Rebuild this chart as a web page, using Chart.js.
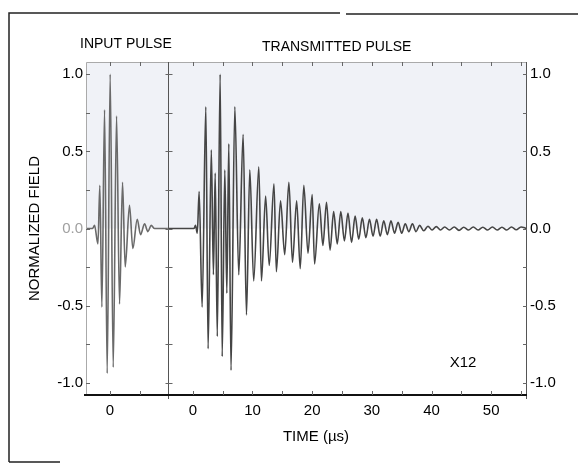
<!DOCTYPE html>
<html>
<head>
<meta charset="utf-8">
<script src="https://cdn.jsdelivr.net/npm/chart.js@4.4.1/dist/chart.umd.min.js"></script>
<style>
  html, body { margin: 0; padding: 0; background: #fff; }
  #wrap { width: 579px; height: 466px; position: relative; }
</style>
</head>
<body>
<div id="wrap"><canvas id="myChart" width="579" height="466"></canvas></div>
<script>
// input pulse, time in µs (its own 0)
const IN_TIME = [-4.0, -2.9, -2.57, -2.0, -1.68, -1.34, -0.89, -0.45, 0.05, 0.56, 1.12, 1.62, 2.12, 2.57, 3.29, 3.85, 4.58, 5.14, 5.81, 6.37, 6.92, 7.5, 9.7];
const IN_VALUE = [0, 0, 0.02, -0.10, 0.28, -0.51, 0.77, -0.94, 1.00, -0.90, 0.73, -0.49, 0.30, -0.25, 0.15, -0.13, 0.06, -0.04, 0.03, -0.02, 0.02, 0, 0];

// transmitted pulse, time in µs
const TX_TIME = [-4.2, 0.2, 0.45, 0.75, 1.06, 1.56, 2.18, 2.56, 3.10, 3.45, 3.75, 4.10, 4.58, 4.92, 5.36, 5.70, 6.03, 6.40, 7.04, 7.70,
  8.43, 8.99, 9.55, 10.20, 11.06, 11.50, 12.20, 12.80, 13.60, 14.00, 14.70, 15.40, 16.10, 16.70, 17.40, 18.00, 18.60, 19.30, 20.00, 20.40,
  21.20, 21.80, 22.40, 23.00, 23.60, 24.20, 24.80, 25.40, 26.00, 26.60, 27.20, 27.80, 28.40, 29.00, 29.60, 30.20, 30.80, 31.40, 32.00, 32.60,
  33.20, 33.80, 34.40, 35.00, 35.60, 36.20, 36.80, 37.40, 38.00, 38.70, 39.40, 40.10, 40.80, 41.50, 42.20, 43.00, 43.80, 44.60, 45.40, 46.20,
  47.00, 47.80, 48.60, 49.40, 50.20, 51.00, 51.80, 52.60, 53.40, 54.20, 55.00, 55.9];
const TX_VALUE = [0, 0, 0.02, -0.03, 0.24, -0.51, 0.79, -0.78, 0.51, -0.30, 0.36, -0.70, 1.00, -0.83, 0.38, -0.42, 0.55, -0.92, 0.79, -0.30,
  0.61, -0.56, 0.38, -0.34, 0.40, -0.34, 0.21, -0.24, 0.29, -0.28, 0.18, -0.17, 0.30, -0.22, 0.18, -0.26, 0.28, -0.16, 0.22, -0.23,
  0.16, -0.11, 0.17, -0.14, 0.11, -0.10, 0.11, -0.08, 0.10, -0.09, 0.08, -0.07, 0.07, -0.06, 0.06, -0.05, 0.06, -0.05, 0.05, -0.04,
  0.05, -0.03, 0.04, -0.03, 0.03, -0.02, 0.03, -0.02, 0.02, -0.015, 0.015, -0.01, 0.012, -0.01, 0.01, -0.01, 0.01, -0.012, 0.008, -0.01,
  0.01, -0.01, 0.008, -0.01, 0.01, -0.01, 0.008, -0.01, 0.01, -0.008, 0.01, 0];

// tick labels
const X_TICK_IN = [0];
const X_TICK_TX = [0, 10, 20, 30, 40, 50];
const Y_TICKS = [-1.0, -0.5, 0.0, 0.5, 1.0];

// layout of the shared time axis (transmitted trace sits to the right of the input trace)
const TX_OFFSET = 13.9;
const X_MIN = -4.0, X_MAX = 69.9, DIVIDER = 9.7;
const Y_MIN = -1.08, Y_MAX = 1.08;

const FONT = "'Liberation Sans', Arial, sans-serif";
const xTickPos = X_TICK_IN.concat(X_TICK_TX.map(t => t + TX_OFFSET));
const xTickLabels = X_TICK_IN.concat(X_TICK_TX).map(String);

const inData = IN_TIME.map((t, i) => ({x: t, y: IN_VALUE[i]}));
const txData = TX_TIME.map((t, i) => ({x: t + TX_OFFSET, y: TX_VALUE[i]}));

const yTickColor = ctx => (ctx.tick && ctx.tick.value === 0) ? '#a0a0a0' : '#000';

const decor = {
  id: 'decor',
  beforeDatasetsDraw(chart) {
    const {ctx, chartArea: a, scales: {y}} = chart;
    ctx.save();
    ctx.fillStyle = '#f0f2f7';
    ctx.fillRect(a.left, a.top, a.right - a.left, y.getPixelForValue(0) - a.top);
    ctx.restore();
  },
  afterDatasetsDraw(chart) {
    const {ctx, chartArea: a, scales: {x, y}} = chart;
    ctx.save();
    // box
    ctx.lineWidth = 1;
    ctx.strokeStyle = '#aaa';
    ctx.beginPath();
    ctx.moveTo(a.left + 0.5, a.bottom); ctx.lineTo(a.left + 0.5, a.top + 0.5); ctx.lineTo(a.right, a.top + 0.5);
    ctx.stroke();
    ctx.strokeStyle = '#555';
    ctx.beginPath();
    ctx.moveTo(a.right - 0.5, a.top); ctx.lineTo(a.right - 0.5, a.bottom + 4);
    const xd = Math.round(x.getPixelForValue(DIVIDER)) + 0.5;
    ctx.moveTo(xd, a.top); ctx.lineTo(xd, a.bottom + 4);
    ctx.stroke();
    ctx.strokeStyle = '#111';
    ctx.lineWidth = 2;
    ctx.beginPath();
    ctx.moveTo(a.left - 2, a.bottom); ctx.lineTo(a.right, a.bottom);
    ctx.stroke();
    // y ticks every 0.25 on left, divider, right
    ctx.lineWidth = 1;
    ctx.strokeStyle = '#666';
    ctx.beginPath();
    for (let v = -1; v <= 1.001; v += 0.25) {
      const py = Math.round(y.getPixelForValue(v)) + 0.5;
      ctx.moveTo(a.left, py); ctx.lineTo(a.left + 4, py);
      ctx.moveTo(xd - 3, py); ctx.lineTo(xd + 4, py);
      ctx.moveTo(a.right - 4, py); ctx.lineTo(a.right, py);
    }
    // x ticks every 5 µs, top and bottom
    const minor = [0, 5];
    for (let t = 0; t <= 55; t += 5) minor.push(t + TX_OFFSET);
    minor.forEach(u => {
      const px = Math.round(x.getPixelForValue(u)) + 0.5;
      ctx.moveTo(px, a.top); ctx.lineTo(px, a.top + 4);
      ctx.moveTo(px, a.bottom); ctx.lineTo(px, a.bottom - 4);
    });
    ctx.stroke();
    ctx.restore();
  },
  afterDraw(chart) {
    const {ctx, scales: {y}} = chart;
    ctx.save();
    // outer frame of the figure
    ctx.strokeStyle = '#222';
    ctx.lineWidth = 1.5;
    ctx.beginPath();
    ctx.moveTo(9, 462); ctx.lineTo(9, 13); ctx.lineTo(340, 13);
    ctx.moveTo(346, 14); ctx.lineTo(578, 14);
    ctx.moveTo(9, 462); ctx.lineTo(60, 462);
    ctx.stroke();

    ctx.fillStyle = '#000';
    ctx.textBaseline = 'middle';
    ctx.font = '14px ' + FONT;
    ctx.textAlign = 'left';
    ctx.fillText('INPUT PULSE', 80, 44);
    ctx.fillText('TRANSMITTED PULSE', 262, 47);

    ctx.font = '15px ' + FONT;
    ctx.textAlign = 'center';
    ctx.fillText('TIME (\u00b5s)', 316, 437);
    ctx.fillText('X12', 463, 363);

    ctx.translate(35, y.getPixelForValue(0));
    ctx.rotate(-Math.PI / 2);
    ctx.fillText('NORMALIZED FIELD', 0, 0);
    ctx.restore();
  }
};

const tickFont = { family: FONT, size: 15 };

new Chart(document.getElementById('myChart'), {
  type: 'line',
  plugins: [decor],
  data: {
    datasets: [
      { label: 'Input pulse', data: inData, borderColor: '#6a6a6a', borderWidth: 1.6, pointRadius: 0, cubicInterpolationMode: 'monotone' },
      { label: 'Transmitted pulse', data: txData, borderColor: '#454545', borderWidth: 1.6, pointRadius: 0, cubicInterpolationMode: 'monotone' }
    ]
  },
  options: {
    animation: false,
    responsive: false,
    layout: { padding: { top: 62, left: 0, right: 0, bottom: 0 } },
    plugins: { legend: { display: false }, tooltip: { enabled: false } },
    scales: {
      x: {
        type: 'linear', min: X_MIN, max: X_MAX,
        afterBuildTicks: s => { s.ticks = xTickPos.map(v => ({value: v})); },
        afterFit: s => { s.height = 71; },
        grid: { display: false, drawTicks: false }, border: { display: false },
        ticks: { autoSkip: false, maxRotation: 0, padding: 7, color: '#000', font: tickFont,
          callback: (v, i) => xTickLabels[i] }
      },
      y: {
        type: 'linear', position: 'left', min: Y_MIN, max: Y_MAX,
        afterBuildTicks: s => { s.ticks = Y_TICKS.map(v => ({value: v})); },
        afterFit: s => { s.width = 86; },
        grid: { display: false, drawTicks: false }, border: { display: false },
        ticks: { padding: 3, color: yTickColor, font: tickFont, callback: v => v.toFixed(1) }
      },
      y2: {
        type: 'linear', position: 'right', min: Y_MIN, max: Y_MAX,
        afterBuildTicks: s => { s.ticks = Y_TICKS.map(v => ({value: v})); },
        afterFit: s => { s.width = 52; },
        grid: { display: false, drawTicks: false }, border: { display: false },
        ticks: { padding: 3, color: '#000', font: tickFont, callback: v => v.toFixed(1) }
      }
    }
  }
});
</script>
</body>
</html>
